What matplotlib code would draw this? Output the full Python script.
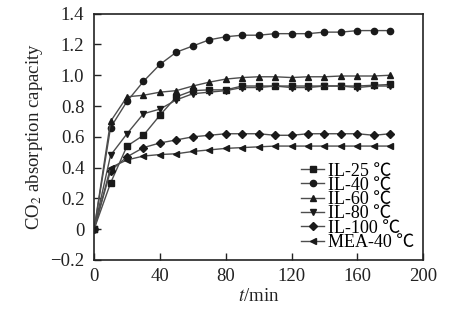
import matplotlib
matplotlib.use("Agg")
import matplotlib.pyplot as plt
from matplotlib.ticker import FuncFormatter

plt.rcParams['font.family'] = ['Liberation Serif', 'Noto Sans CJK SC', 'DejaVu Serif']
plt.rcParams['mathtext.fontset'] = 'stix'

# absorption time, min
t = [0, 10, 20, 30, 40, 50, 60, 70, 80, 90, 100, 110, 120, 130, 140, 150, 160, 170, 180]

il_25 = [0, 0.30, 0.54, 0.61, 0.74, 0.86, 0.90, 0.905, 0.905, 0.93, 0.93, 0.93, 0.93, 0.93, 0.93, 0.93, 0.93, 0.935, 0.94]
il_40 = [0, 0.66, 0.83, 0.96, 1.07, 1.15, 1.19, 1.23, 1.25, 1.26, 1.26, 1.27, 1.27, 1.27, 1.28, 1.28, 1.29, 1.29, 1.29]
il_60 = [0, 0.70, 0.86, 0.87, 0.89, 0.90, 0.93, 0.955, 0.975, 0.985, 0.99, 0.99, 0.985, 0.99, 0.99, 0.995, 0.995, 0.995, 1.0]
il_80 = [0, 0.48, 0.62, 0.75, 0.78, 0.84, 0.88, 0.89, 0.90, 0.92, 0.92, 0.93, 0.92, 0.92, 0.93, 0.93, 0.92, 0.93, 0.93]
il_100 = [0, 0.38, 0.47, 0.53, 0.56, 0.58, 0.60, 0.61, 0.62, 0.62, 0.62, 0.61, 0.61, 0.62, 0.62, 0.62, 0.62, 0.61, 0.62]
mea_40 = [0, 0.40, 0.45, 0.475, 0.485, 0.49, 0.505, 0.515, 0.525, 0.53, 0.535, 0.54, 0.54, 0.54, 0.54, 0.54, 0.54, 0.54, 0.54]

series = [il_25, il_40, il_60, il_80, il_100, mea_40]
labels = ['IL-25 ℃', 'IL-40 ℃', 'IL-60 ℃', 'IL-80 ℃', 'IL-100 ℃', 'MEA-40 ℃']
markers = ['s', 'o', '^', 'v', 'D', '<']
msizes = [4, 4.5, 4.5, 4.5, 4, 4.5]

fig = plt.figure(figsize=(4.59, 3.25), dpi=100)
ax = fig.add_axes([0.205, 0.2, 0.717, 0.758])

for y, lab, m, ms in zip(series, labels, markers, msizes):
    ax.plot(t, y, color='0.3', linewidth=1.0, marker=m, markersize=ms,
            markerfacecolor='#1a1a1a', markeredgecolor='#1a1a1a', label=lab)

ax.set_xlim(0, 200)
ax.set_ylim(-0.2, 1.4)
ax.set_xticks([0, 40, 80, 120, 160, 200])
ax.set_yticks([-0.2, 0, 0.2, 0.4, 0.6, 0.8, 1.0, 1.2, 1.4])
ax.yaxis.set_major_formatter(FuncFormatter(lambda v, p: '0' if abs(v) < 1e-9 else f'{v:.1f}'.replace('-', '\u2212')))
ax.tick_params(direction='in', length=5, width=1, labelsize=13.5, colors='#222222')
ax.tick_params(axis='y', pad=7)
ax.tick_params(axis='x', pad=6)
for s in ax.spines.values():
    s.set_linewidth(1.2)
    s.set_color('#222222')

ax.set_xlabel('$t$/min', fontsize=13.5, labelpad=2, color='#222222')
ax.set_ylabel('CO$_2$ absorption capacity', fontsize=13.5, labelpad=4, color='#222222')

ax.legend(loc='lower right', frameon=False, fontsize=13, labelspacing=-0.15,
          handlelength=1.3, handletextpad=0.2, borderaxespad=0.1,
          bbox_to_anchor=(1.0, 0.0))

plt.savefig('out.png', dpi=100)
